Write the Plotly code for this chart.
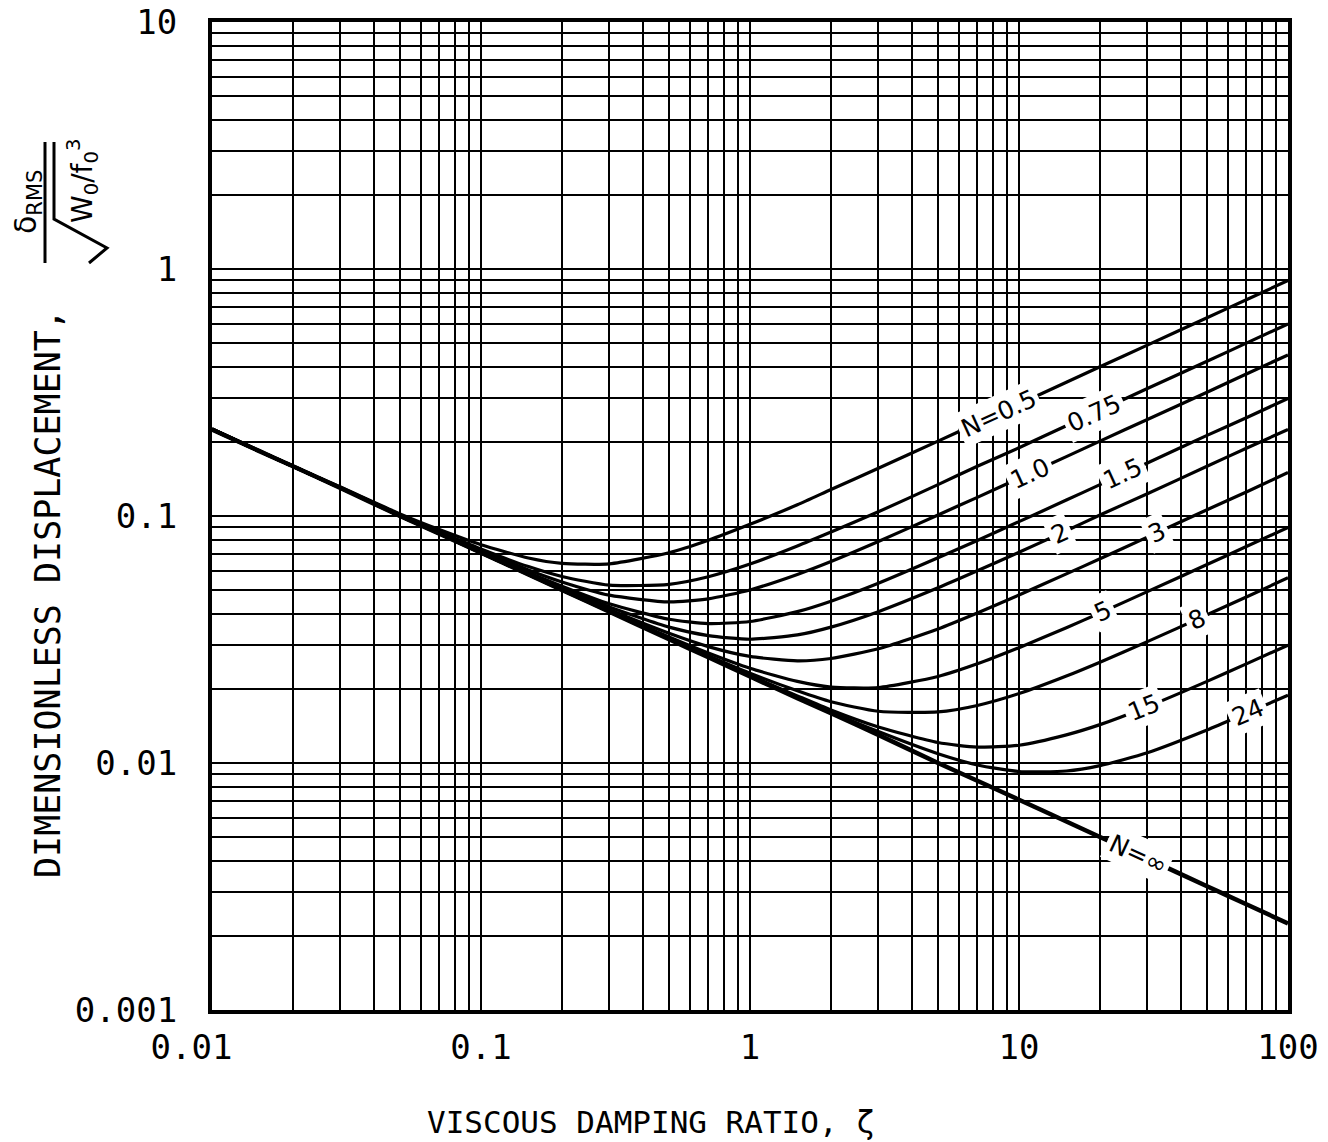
import numpy as np
import plotly.graph_objects as go

# Viscous damping ratio (zeta) sample points along every curve
zeta = [0.01, 0.015, 0.02, 0.03, 0.05, 0.07, 0.1, 0.15, 0.2, 0.3, 0.5, 0.7, 1,
        1.5, 2, 3, 5, 7, 10, 15, 20, 30, 50, 70, 100]

# Dimensionless RMS displacement for each stiffness ratio N
disp_n0_5 = [0.225, 0.184, 0.159, 0.131, 0.102, 0.0881, 0.0765, 0.0676, 0.0643, 0.064, 0.071, 0.0798, 0.0926,
             0.111, 0.128, 0.156, 0.201, 0.238, 0.284, 0.348, 0.402, 0.492, 0.635, 0.751, 0.898]
disp_n0_75 = [0.225, 0.183, 0.159, 0.13, 0.101, 0.0863, 0.0735, 0.0624, 0.0569, 0.0525, 0.0529, 0.0568, 0.0639,
              0.0756, 0.0861, 0.104, 0.134, 0.159, 0.189, 0.232, 0.268, 0.328, 0.423, 0.501, 0.599]
disp_n1_0 = [0.225, 0.183, 0.159, 0.13, 0.101, 0.0857, 0.0724, 0.0605, 0.0541, 0.0478, 0.0449, 0.0462, 0.0502,
             0.058, 0.0654, 0.0788, 0.101, 0.119, 0.142, 0.174, 0.201, 0.246, 0.317, 0.376, 0.449]
disp_n1_5 = [0.225, 0.183, 0.159, 0.13, 0.101, 0.0852, 0.0716, 0.0591, 0.052, 0.0441, 0.0382, 0.0367, 0.0374,
             0.041, 0.0452, 0.0534, 0.0677, 0.0796, 0.0949, 0.116, 0.134, 0.164, 0.212, 0.25, 0.299]
disp_n2 = [0.224, 0.183, 0.159, 0.13, 0.101, 0.0851, 0.0713, 0.0586, 0.0512, 0.0428, 0.0355, 0.0328, 0.0317,
           0.033, 0.0355, 0.041, 0.0512, 0.06, 0.0713, 0.0871, 0.101, 0.123, 0.159, 0.188, 0.224]
disp_n3 = [0.224, 0.183, 0.159, 0.13, 0.1, 0.0849, 0.0711, 0.0583, 0.0506, 0.0418, 0.0335, 0.0296, 0.027,
           0.0259, 0.0265, 0.029, 0.0349, 0.0405, 0.0479, 0.0583, 0.0671, 0.0821, 0.106, 0.125, 0.15]
disp_n5 = [0.224, 0.183, 0.159, 0.13, 0.1, 0.0849, 0.071, 0.0581, 0.0504, 0.0413, 0.0324, 0.0279, 0.0242,
           0.0214, 0.0203, 0.0202, 0.0224, 0.0252, 0.0293, 0.0353, 0.0405, 0.0494, 0.0636, 0.0752, 0.0898]
disp_n8 = [0.224, 0.183, 0.159, 0.13, 0.1, 0.0849, 0.071, 0.058, 0.0503, 0.0411, 0.032, 0.0272, 0.0231,
           0.0196, 0.0177, 0.0162, 0.0161, 0.0171, 0.0191, 0.0225, 0.0256, 0.031, 0.0398, 0.047, 0.0562]
disp_n15 = [0.224, 0.183, 0.159, 0.13, 0.1, 0.0849, 0.071, 0.058, 0.0502, 0.041, 0.0318, 0.0269, 0.0226,
            0.0187, 0.0164, 0.014, 0.0121, 0.0116, 0.0118, 0.013, 0.0143, 0.0169, 0.0214, 0.0252, 0.03]
disp_n24 = [0.224, 0.183, 0.159, 0.13, 0.1, 0.0848, 0.071, 0.058, 0.0502, 0.041, 0.0318, 0.0269, 0.0225,
            0.0185, 0.0161, 0.0134, 0.0109, 0.00982, 0.00924, 0.00928, 0.00976, 0.011, 0.0136, 0.0159, 0.0188]
disp_inf = [0.224, 0.183, 0.159, 0.13, 0.1, 0.0848, 0.071, 0.058, 0.0502, 0.041, 0.0317, 0.0268, 0.0224,
            0.0183, 0.0159, 0.013, 0.01, 0.00848, 0.0071, 0.0058, 0.00502, 0.0041, 0.00317, 0.00268, 0.00224]

curve_labels = ["N=0.5", "0.75", "1.0", "1.5", "2", "3", "5", "8", "15", "24", "N=\u221e"]
curve_values = [disp_n0_5, disp_n0_75, disp_n1_0, disp_n1_5, disp_n2, disp_n3,
                disp_n5, disp_n8, disp_n15, disp_n24, disp_inf]
# damping ratio at which each curve carries its in-line label
label_zeta = [8.4, 19.0, 11.0, 24.4, 14.2, 32.6, 20.5, 45.9, 29.2, 71.0, 27.7]

x_ticks_major = [0.01, 0.1, 1, 10, 100]
x_tick_text = ["0.01\u00a0\u00a0", "0.1", "1", "10", "100"]
y_ticks_major = [0.001, 0.01, 0.1, 1, 10]
y_tick_text = ["0.001", "0.01", "0.1", "1", "10"]

MONO = "DejaVu Sans Mono"
W, H = 1328, 1142
L, R, T, B = 212, 40, 22, 132
PW, PH = W - L - R, H - T - B


def paper(xp, yp):
    """Convert page pixels to paper coordinates of the plot area."""
    return (xp - L) / PW, (H - B - yp) / PH


fig = go.Figure()

for lab, vals in zip(curve_labels, curve_values):
    fig.add_trace(go.Scatter(
        x=zeta, y=vals, mode="lines", name=lab,
        line=dict(color="black", width=4.5 if lab.endswith("\u221e") else 3.2,
                  shape="spline", smoothing=0.6),
        hoverinfo="skip", showlegend=False))

# in-line curve labels, placed on the curves and rotated along them
lz = np.log10(zeta)
for lab, vals, zl in zip(curve_labels, curve_values, label_zeta):
    lv = np.log10(vals)
    x0 = np.log10(zl)
    y0 = np.interp(x0, lz, lv)
    d = 0.08
    slope = (np.interp(x0 + d, lz, lv) - np.interp(x0 - d, lz, lv)) / (2 * d)
    ang = -np.degrees(np.arctan(slope * (PH / 4) / (PW / 4)))
    fig.add_annotation(x=x0, y=y0, xref="x", yref="y", text=lab, showarrow=False,
                       xanchor="center", yanchor="middle",
                       textangle=ang, bgcolor="white", borderpad=3,
                       font=dict(family="DejaVu Sans", size=25, color="black"))

axis_common = dict(type="log", showgrid=True, gridcolor="black", gridwidth=2.4,
                   showline=True, linecolor="black", linewidth=4, mirror=True,
                   ticks="", zeroline=False,
                   minor=dict(dtick="D1", showgrid=True, gridcolor="black", gridwidth=2.4, ticks=""),
                   tickfont=dict(family=MONO, size=34, color="black"))
fig.update_xaxes(range=[-2, 2], tickvals=x_ticks_major, ticktext=x_tick_text,
                 ticklabelstandoff=4, **axis_common)
fig.update_yaxes(range=[-3, 1], tickvals=y_ticks_major, ticktext=y_tick_text,
                 ticklabelstandoff=24, **axis_common)

# axis titles
px, py = paper(651, 1122)
fig.add_annotation(x=px, y=py, xref="paper", yref="paper", showarrow=False,
                   xanchor="center", yanchor="middle",
                   text="VISCOUS DAMPING RATIO, \u03b6",
                   font=dict(family=MONO, size=31, color="black"))
px, py = paper(48, 594)
fig.add_annotation(x=px, y=py, xref="paper", yref="paper", showarrow=False,
                   xanchor="center", yanchor="middle",
                   text="DIMENSIONLESS DISPLACEMENT,", textangle=-90,
                   font=dict(family=MONO, size=35, color="black"))
# fraction  delta_RMS / sqrt(W0/f0^3)
px, py = paper(27, 202)
fig.add_annotation(x=px, y=py, xref="paper", yref="paper", showarrow=False,
                   xanchor="center", yanchor="middle",
                   text="\u03b4<sub>RMS</sub>", textangle=-90,
                   font=dict(family="DejaVu Sans", size=30, color="black"))
px, py = paper(82, 181)
fig.add_annotation(x=px, y=py, xref="paper", yref="paper", showarrow=False,
                   xanchor="center", yanchor="middle",
                   text="W<sub>0</sub>/f<sub>0</sub><sup>3</sup>", textangle=-90,
                   font=dict(family="DejaVu Sans", size=28, color="black"))
a0, b0 = paper(45, 142)
a1, b1 = paper(45, 263)
fig.add_shape(type="line", xref="paper", yref="paper", x0=a0, y0=b0, x1=a1, y1=b1,
              line=dict(color="black", width=3))
pts = [paper(54, 142), paper(54, 219), paper(107, 248), paper(89, 263)]
path = "M " + " L ".join(f"{u:.5f},{v:.5f}" for u, v in pts)
fig.add_shape(type="path", xref="paper", yref="paper", path=path,
              line=dict(color="black", width=3))

fig.update_layout(width=W, height=H, margin=dict(l=L, r=R, t=T, b=B, autoexpand=False),
                  paper_bgcolor="white", plot_bgcolor="white", showlegend=False)
fig.write_html("out.html")
